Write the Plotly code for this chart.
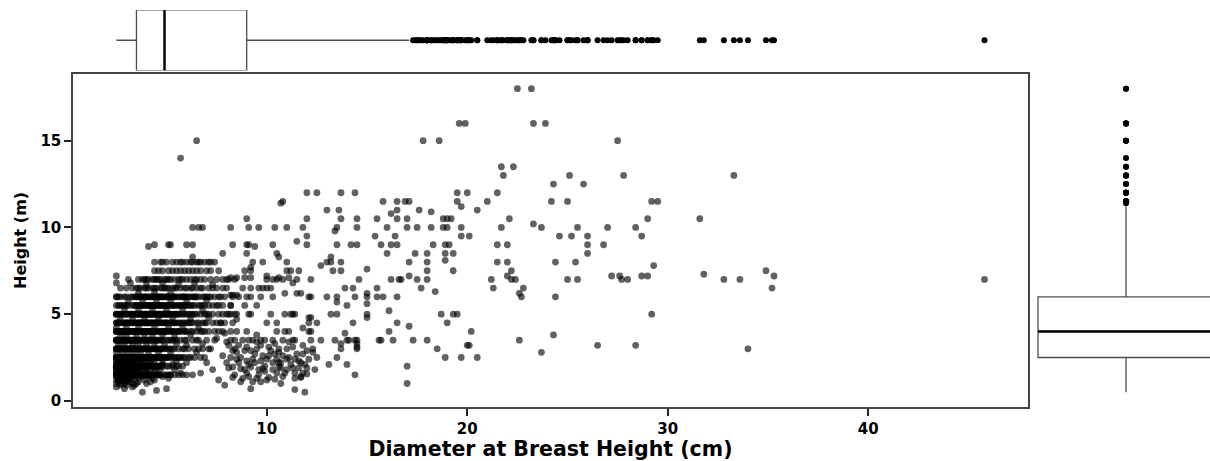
import numpy as np
import plotly.graph_objects as go

# DBH (cm) of stems recorded on each 0.5 m height class of the dense cluster
dbh_at_1_5 = [2.5, 2.5, 2.5, 2.6, 2.6, 2.7, 2.7, 2.8, 2.8, 2.8, 2.9, 2.9, 3.0, 3.0, 3.0, 3.1, 3.1, 3.2, 3.2, 3.3,
              3.3, 3.4, 3.4, 3.5, 3.6, 3.6, 3.7, 3.8, 3.8, 3.9, 4.0, 4.1, 4.1, 4.2, 4.3, 4.4, 4.4, 4.5, 4.6, 4.7,
              4.9, 5.0, 5.2, 5.4, 5.6, 5.8, 6.0, 6.3, 2.5, 2.6, 2.7, 2.8, 2.9, 3.0, 3.1, 3.2, 3.3, 3.4, 2.5, 2.7,
              2.9, 3.1, 3.5, 3.7, 3.9, 4.2, 4.6, 5.1]
dbh_at_2_0 = [2.5, 2.5, 2.5, 2.6, 2.6, 2.6, 2.7, 2.7, 2.7, 2.8, 2.8, 2.8, 2.9, 2.9, 3.0, 3.0, 3.0, 3.1, 3.1, 3.2,
              3.2, 3.3, 3.3, 3.4, 3.4, 3.5, 3.5, 3.6, 3.7, 3.7, 3.8, 3.9, 4.0, 4.0, 4.1, 4.2, 4.3, 4.3, 4.4, 4.5,
              4.6, 4.8, 5.0, 5.1, 5.3, 5.5, 5.8, 2.5, 2.6, 2.7, 2.8, 2.9, 3.0, 3.1, 3.2, 3.3, 3.4, 2.6, 2.8, 3.0,
              3.6, 3.8, 4.0, 4.3, 4.5, 4.7, 5.6]
dbh_at_2_5 = [2.5, 2.5, 2.5, 2.6, 2.6, 2.6, 2.7, 2.7, 2.8, 2.8, 2.8, 2.9, 2.9, 3.0, 3.0, 3.0, 3.1, 3.1, 3.2, 3.2,
              3.2, 3.3, 3.3, 3.4, 3.4, 3.5, 3.5, 3.6, 3.6, 3.7, 3.8, 3.9, 3.9, 4.0, 4.0, 4.1, 4.2, 4.2, 4.3, 4.4,
              4.5, 4.5, 4.6, 4.7, 4.8, 4.9, 5.0, 5.1, 5.3, 5.5, 5.7, 5.9, 6.1, 6.4, 2.5, 2.7, 3.1, 3.4, 3.8, 4.4,
              5.2, 6.7, 2.5, 2.6, 2.7, 2.8, 2.9, 3.0, 3.1, 3.2, 3.3, 3.4, 2.6, 2.8, 3.0, 3.2, 3.4, 3.5, 3.6, 3.7,
              3.9, 4.1, 4.3, 4.5, 4.6, 4.7, 4.8, 5.0, 5.4, 5.8, 6.2, 6.9, 2.5, 2.7, 2.9, 3.1, 3.3, 3.6, 3.9, 4.2,
              4.6, 5.6]
dbh_at_3_0 = [2.5, 2.5, 2.5, 2.6, 2.6, 2.7, 2.7, 2.8, 2.8, 2.9, 2.9, 3.0, 3.0, 3.1, 3.1, 3.2, 3.2, 3.3, 3.4, 3.4,
              3.5, 3.6, 3.7, 3.7, 3.8, 3.9, 4.0, 4.0, 4.1, 4.2, 4.3, 4.4, 4.5, 4.6, 4.7, 4.9, 5.0, 5.2, 5.4, 5.6,
              5.9, 6.1, 6.4, 6.8, 2.5, 2.7, 2.9, 3.1, 3.3, 3.6, 3.9, 4.2, 4.5, 4.8, 5.1, 6.6, 2.6, 2.8, 3.0, 3.2,
              3.4, 3.5, 3.8, 4.1, 4.4, 4.7, 5.3, 5.8, 7.1]
dbh_at_3_5 = [2.5, 2.5, 2.5, 2.6, 2.6, 2.7, 2.8, 2.8, 2.9, 2.9, 3.0, 3.1, 3.2, 3.2, 3.3, 3.4, 3.5, 3.5, 3.6, 3.7,
              3.8, 3.9, 4.0, 4.1, 4.2, 4.3, 4.4, 4.5, 4.6, 4.8, 5.0, 5.1, 5.3, 5.5, 5.7, 6.0, 6.3, 6.6, 7.0, 2.6,
              2.8, 3.0, 3.2, 3.4, 3.5, 3.8, 4.1, 4.4, 4.7, 5.2, 5.9, 7.4, 2.5, 2.7, 2.9, 3.1, 3.3, 3.6, 3.9, 4.2,
              4.5, 4.8, 5.4, 6.5]
dbh_at_4_0 = [2.5, 2.5, 2.6, 2.7, 2.8, 2.8, 2.9, 3.0, 3.1, 3.1, 3.2, 3.3, 3.4, 3.5, 3.6, 3.7, 3.8, 3.9, 3.9, 4.0,
              4.1, 4.2, 4.3, 4.4, 4.6, 4.7, 4.8, 4.9, 5.0, 5.2, 5.3, 5.4, 5.5, 5.7, 5.9, 6.2, 6.5, 6.9, 7.4, 2.6,
              2.9, 3.0, 3.2, 3.4, 2.7, 3.6, 3.8, 4.0, 4.2, 4.5, 4.7, 3.5, 4.1, 5.1, 5.6, 6.0, 6.7, 7.1, 7.8, 2.5,
              2.6, 2.8, 2.9, 3.0, 3.1, 3.3, 3.4, 3.5, 3.6, 3.7, 3.9, 4.0, 4.2, 4.4, 4.5, 4.8, 4.9, 5.0, 5.3, 5.6,
              5.9, 6.3, 6.8, 7.6]
dbh_at_4_5 = [2.5, 2.5, 2.6, 2.7, 2.8, 2.9, 3.0, 3.0, 3.1, 3.2, 3.3, 3.4, 3.5, 3.6, 3.6, 3.7, 3.8, 3.9, 4.0, 4.1,
              4.1, 4.2, 4.3, 4.5, 4.6, 4.6, 4.7, 4.9, 5.0, 5.1, 5.2, 5.3, 5.4, 5.6, 5.8, 6.0, 6.3, 6.6, 7.0, 7.5,
              2.6, 3.1, 3.3, 3.7, 3.9, 4.0, 4.2, 4.4, 4.8, 3.5, 3.8, 4.3, 4.9, 5.2, 5.5, 5.7, 5.9, 6.2, 6.5, 6.9,
              7.3, 7.9, 8.3, 2.6, 2.9, 3.7, 4.0, 4.4, 5.0, 5.4, 6.1, 6.8, 7.7]
dbh_at_5_0 = [2.5, 2.5, 2.6, 2.7, 2.8, 2.9, 3.0, 3.1, 3.2, 3.3, 3.4, 3.5, 3.5, 3.6, 3.7, 3.8, 3.9, 4.0, 4.0, 4.1,
              4.2, 4.3, 4.4, 4.5, 4.5, 4.6, 4.7, 4.8, 4.9, 5.0, 5.0, 5.1, 5.2, 5.4, 5.5, 5.5, 5.7, 5.9, 6.0, 6.1,
              6.4, 6.7, 7.1, 7.6, 8.0, 2.7, 3.0, 3.2, 3.4, 3.6, 3.7, 3.9, 4.1, 4.2, 4.4, 4.6, 4.8, 3.8, 4.3, 4.9,
              5.1, 5.3, 5.6, 5.8, 6.2, 6.5, 6.9, 7.3, 7.8, 8.4, 2.5, 3.3, 3.9, 4.2, 4.6, 4.7, 5.2, 5.5, 6.3, 7.0,
              8.1]
dbh_at_5_5 = [2.5, 2.7, 2.9, 3.1, 3.3, 3.5, 3.7, 3.8, 4.0, 4.1, 4.2, 4.3, 4.4, 4.6, 4.7, 4.8, 4.9, 5.0, 5.2, 5.3,
              5.4, 5.5, 5.7, 5.9, 6.1, 6.3, 6.6, 6.9, 7.3, 7.8, 2.6, 2.8, 3.4, 3.6, 3.9, 4.0, 4.5, 4.7, 3.5, 4.2,
              4.4, 4.8, 5.0, 5.1, 5.6, 5.8, 6.0, 6.4, 6.8, 7.1, 7.5, 8.2, 3.0, 3.8, 4.3, 4.6, 5.3, 5.7, 6.2, 6.7,
              7.6]
dbh_at_6_0 = [2.5, 2.5, 2.7, 2.9, 3.0, 3.2, 3.4, 3.5, 3.7, 3.9, 4.0, 4.2, 4.3, 4.4, 4.5, 4.6, 4.8, 5.0, 5.1, 5.2,
              5.3, 5.5, 5.7, 5.9, 6.0, 6.2, 6.5, 6.8, 7.2, 7.6, 2.6, 3.3, 3.6, 3.8, 4.1, 4.3, 4.6, 4.7, 3.5, 4.0,
              4.4, 4.8, 3.7, 4.2, 4.9, 5.1, 5.4, 5.6, 5.8, 6.1, 6.3, 6.6, 6.9, 7.4, 7.9, 8.3, 5.3, 5.9, 6.4, 7.0,
              3.9, 4.5, 4.7, 5.0, 5.4, 5.8, 6.4, 7.1, 7.7, 8.6]
dbh_at_6_5 = [2.7, 3.0, 3.3, 3.5, 3.7, 3.9, 4.1, 4.3, 4.5, 4.7, 4.9, 5.1, 5.3, 5.5, 5.7, 6.0, 6.2, 6.5, 6.8, 7.1,
              7.5, 8.0, 3.6, 4.0, 4.4, 4.8, 5.0, 5.4, 5.9, 6.3, 6.7, 7.3, 7.8]
dbh_at_7_0 = [3.1, 3.6, 3.9, 4.0, 4.1, 4.4, 4.5, 4.6, 4.9, 5.0, 5.1, 5.4, 5.6, 5.7, 6.0, 6.2, 6.4, 6.7, 7.2, 7.8,
              8.1, 8.4, 3.8, 4.3, 4.7, 5.2, 5.8, 6.5, 6.9, 7.5, 8.0]
dbh_at_7_5 = [4.4, 4.8, 5.1, 5.5, 5.9, 6.3, 6.7, 7.2, 7.6, 4.6, 5.3, 5.7, 6.1, 6.5, 7.0]
dbh_at_8_0 = [4.4, 4.8, 5.3, 5.5, 5.7, 5.8, 6.0, 6.3, 6.5, 6.7, 7.1, 7.2, 4.7, 5.0, 6.2, 6.9, 6.6, 7.4]

height_classes = [1.5, 2.0, 2.5, 3.0, 3.5, 4.0, 4.5, 5.0, 5.5, 6.0, 6.5, 7.0, 7.5, 8.0]
class_dbh = [dbh_at_1_5, dbh_at_2_0, dbh_at_2_5, dbh_at_3_0, dbh_at_3_5, dbh_at_4_0, dbh_at_4_5,
             dbh_at_5_0, dbh_at_5_5, dbh_at_6_0, dbh_at_6_5, dbh_at_7_0, dbh_at_7_5, dbh_at_8_0]

# small stems whose height falls between the classes: "dbh,height"
small_between = """
2.5,0.8 2.9,0.7 3.3,0.8 3.8,0.5 4.5,0.6 5.0,0.7 2.7,1.0 3.0,0.9 3.5,1.0 2.6,1.1 3.2,1.1 4.0,1.0 2.5,1.0
3.4,0.9 2.8,1.2 3.9,1.2 4.2,1.1 2.5,1.2 3.1,1.2 3.6,1.1 2.9,1.0 4.4,1.2 2.7,0.9 3.0,1.1 2.6,1.2 3.3,1.0
2.5,1.4 2.6,1.3 2.7,1.6 2.9,1.7 3.0,1.4 3.2,1.8 3.4,1.3 3.5,1.7 3.7,1.6 2.5,1.7 2.8,1.8 3.1,1.6 3.3,1.4
3.9,1.8 4.1,1.4 4.4,1.7 2.6,1.8 3.6,1.3 2.5,1.6 3.0,1.8 2.7,1.3 2.9,1.4 3.2,1.3 4.0,1.6 4.7,1.8 5.1,1.3
2.6,1.7 2.8,1.6 3.4,1.7 3.8,1.4 2.5,2.2 2.5,2.3 2.7,2.2 2.8,1.9 3.0,2.3 3.1,2.2 3.3,2.3 2.6,2.2 2.9,2.3
3.2,1.9 3.5,2.2 3.8,2.3 4.2,2.2 2.5,1.9 2.6,1.9 3.0,2.1 3.4,2.2 4.0,2.3 2.5,2.1 2.8,2.4 2.7,2.1 2.9,1.9
3.1,2.4 3.3,2.1 3.6,1.9 3.9,2.1 4.4,2.3 4.8,2.2 5.3,2.1 2.6,2.4 2.5,1.8 2.7,1.4 3.0,1.6 3.3,1.7 2.6,2.1
2.9,2.2 3.2,2.1 3.4,1.9 3.5,1.5 3.8,1.9 4.1,2.1 4.3,1.3 3.6,2.3 4.0,1.8 3.7,2.4 4.6,2.0 4.8,1.4 5.4,1.8
6.0,2.2 5.7,1.6 2.5,1.5 2.6,1.6 2.7,1.7 2.8,1.3 2.9,1.5 3.0,1.2 3.1,1.8 3.2,1.6 3.3,1.9 3.4,1.5 2.5,2.0
2.6,2.3 2.7,2.4 2.8,2.2 2.9,2.0 3.0,2.4 3.1,2.0 3.3,2.2 3.5,1.9 3.6,1.6 3.7,2.1 3.9,1.5 4.0,2.0 4.2,1.7
4.3,2.4 4.5,1.9 4.6,1.5 4.8,2.1 5.2,1.5 5.5,2.3
2.5,2.8 2.8,2.7 3.1,2.8 3.4,2.7 3.7,2.8 4.1,2.7 4.6,2.8 5.2,2.7 2.6,3.2 2.9,3.3 3.3,3.2 3.6,3.3 4.0,3.2
4.4,3.3 4.9,3.2 5.5,3.3 6.0,3.2 2.7,3.7 3.0,3.8 3.5,3.7 3.9,3.8 4.3,3.7 4.8,3.8 5.4,3.7 6.2,3.8 6.8,3.3
6.5,2.8 7.2,3.0 7.5,3.6 7.0,2.2 7.3,1.8 6.7,1.6 7.8,2.6 8.1,1.9 7.6,1.2 8.3,2.9 8.0,3.4 8.6,2.2 8.4,1.5
7.9,0.9
2.5,4.2 3.0,4.3 3.6,4.2 4.4,4.3 5.1,4.2 5.8,4.3 6.6,4.2 2.7,4.8 3.3,4.7 3.9,4.8 4.6,4.7 5.3,4.8 6.2,4.7
7.1,4.8 2.9,5.3 3.6,5.2 4.3,5.3 5.0,5.2 5.8,5.3 6.8,5.2 3.1,5.7 3.8,5.8 4.5,5.7 5.2,5.8 6.0,5.7 7.0,5.8
7.7,4.5 8.2,5.5 8.5,4.7 7.9,3.9
2.5,6.8 2.5,7.2 3.2,6.8 4.0,6.7 4.8,6.8 5.6,6.7 6.4,6.8 7.3,6.7 3.6,6.2 4.4,6.3 5.2,6.2
5.7,14.0 6.5,15.0
"""

# larger stems, mostly beyond 8 cm DBH: "dbh,height"
large_stems = """
22.5,18 23.2,18 19.6,16 19.9,16 23.3,16 23.9,16 17.8,15 18.6,15 27.5,15 21.7,13.5 22.3,13.5 21.8,13
25.1,13 27.8,13 33.3,13 24.3,12.5 25.8,12.5 12.0,12 12.5,12 13.7,12 14.4,12 19.5,12 20.0,12 21.5,12
10.7,11.4 10.8,11.5 15.8,11.5 16.5,11.5 16.9,11.5 17.1,11.5 19.5,11.5 21.0,11.5 24.2,11.5 25.0,11.5
29.2,11.5 29.5,11.5 19.7,11.2 13.0,11 13.6,11 16.5,11 17.6,11 20.5,11 18.2,10.9 16.2,10.8
9.0,10.5 12.0,10.5 13.7,10.5 14.5,10.5 15.5,10.5 16.5,10.5 17.0,10.5 18.8,10.5 19.0,10.5 19.2,10.5
22.1,10.5 29.0,10.5 31.6,10.5
6.3,10 6.6,10 6.8,10 8.2,10 9.1,10 9.6,10 10.4,10 11.0,10 11.8,10 13.4,9.8 13.5,10 14.5,10 16.0,10
17.0,10 17.5,10 18.2,10 18.8,10 19.0,10 19.7,10 21.7,10 23.3,10.2 23.7,10 25.5,10 27.0,10 28.4,10
11.5,9.2 12.0,9.5 15.4,9.5 16.4,9.5 19.7,9.5 20.1,9.5 24.6,9.5 25.2,9.5 26.0,9.5 28.7,9.5
4.1,8.9 4.4,9 5.1,9 5.2,9 6.0,9 6.3,9 8.3,9 9.0,9 9.1,9 9.4,8.9 10.3,9 12.0,9 13.5,9 14.2,9 14.5,9
15.7,9 16.2,9 16.5,9 18.3,9 18.9,9 19.1,9 21.5,9 22.0,9 26.0,9 26.8,9
7.8,8.5 9.0,8.5 10.5,8.5 10.6,8.3 13.2,8.3 16.0,8.5 17.4,8.5 18.0,8.5 18.9,8.5 19.3,8.5 26.0,8.5 6.3,8.3
9.3,8 9.8,8 11.0,8 12.7,7.8 13.0,8 13.2,8 13.7,8 17.1,8 18.0,8 18.9,8.1 21.5,8 22.0,8 24.4,8 25.4,8
29.3,7.8
8.9,7.5 9.2,7.5 9.2,7.7 11.0,7.5 11.2,7.5 11.6,7.5 13.3,7.5 13.7,7.5 15.0,7.6 18.0,7.5 19.3,7.5
22.2,7.5 34.9,7.5 8.2,7.1 8.5,7.1 8.9,7.1 9.2,7.1 10.0,7.2 10.0,7.0 10.3,7.0 10.5,7.0 10.6,7.1 10.8,7.0
11.1,7.1 11.5,7.0 12.2,7.0 14.6,7.0 16.2,7.0 16.6,7.0 16.7,7.0 17.1,7.2 17.5,7.0 18.0,7.0 21.2,7.0
22.0,7.2 22.2,7.0 22.4,7.0 25.0,7.0 25.5,7.0 27.2,7.2 27.6,7.2 27.7,7.0 28.0,7.0 28.7,7.2 29.0,7.2
31.8,7.3 32.8,7.0 33.6,7.0 35.3,7.2 45.8,7.0
8.8,6.5 9.2,6.5 9.6,6.5 9.8,6.5 10.0,6.5 10.2,6.5 11.3,6.8 13.9,6.5 14.3,6.5 15.5,6.5 17.7,6.5 18.4,6.3
21.3,6.5 22.8,6.5 22.6,6.2 22.7,6.0 35.2,6.5
8.2,6.1 8.3,6.1 8.5,6.1 9.0,6.0 9.2,6.0 9.7,6.0 10.3,6.0 10.9,6.2 11.5,6.2 11.7,6.2 12.1,6.0 12.2,6.0
13.0,6.0 13.5,6.0 13.5,5.7 14.4,6.0 15.0,6.2 15.0,6.0 15.5,6.0 15.8,6.0 16.5,6.0 24.4,6.0
8.9,5.5 9.5,5.5 14.0,5.5 15.0,5.6 16.1,5.2 8.2,5.0 8.5,5.0 9.1,5.0 9.2,5.0 10.2,5.0 10.9,5.0 11.2,5.0
11.3,5.0 11.4,5.0 12.2,4.8 13.2,5.0 13.5,5.0 15.0,5.0 15.0,4.8 18.7,5.0 19.3,5.0 19.5,5.0 29.2,5.0
10.0,4.5 10.5,4.5 12.1,4.5 12.5,4.5 12.1,4.8 14.3,4.5 16.5,4.5 19.0,4.5 11.8,4.2 17.1,4.3 8.2,4.0
8.5,4.0 9.0,4.0 10.5,4.0 10.9,4.0 11.1,4.0 12.1,4.0 12.2,4.0 16.1,4.0 20.2,4.0 13.9,3.9 9.5,3.8 24.3,3.8
8.2,3.5 8.4,3.5 8.8,3.5 9.1,3.5 9.3,3.5 9.7,3.5 9.9,3.5 10.3,3.5 10.8,3.5 11.3,3.5 11.4,3.5 12.2,3.5
12.7,3.5 13.4,3.5 14.0,3.5 14.1,3.5 14.4,3.5 14.5,3.5 15.6,3.5 15.7,3.5 16.3,3.5 17.3,3.5 18.0,3.5
22.6,3.5 13.7,3.3 14.5,3.3 11.8,3.2
8.4,3.0 9.0,3.1 9.5,3.0 10.1,3.1 10.6,2.8 11.3,3.1 11.8,2.7 12.3,2.8 12.3,3.0 13.7,3.0 14.5,3.0 14.5,3.1
18.5,3.0 20.0,3.2 20.1,3.2 26.5,3.2 28.4,3.2 34.0,3.0 23.7,2.8
8.2,2.5 8.5,2.4 8.7,2.5 9.0,2.3 9.3,2.4 9.7,2.3 10.0,2.4 10.5,2.4 10.6,2.2 11.1,2.5 11.4,2.4 11.6,2.3
12.5,2.5 13.5,2.5 18.9,2.5 19.7,2.5 20.5,2.5
8.3,1.95 8.7,1.85 8.9,1.8 9.2,1.95 9.6,1.8 9.8,1.85 10.3,1.8 10.6,1.95 10.7,2.2 10.7,1.9 11.0,1.8
11.6,1.9 11.7,2.2 11.9,2.1 12.0,1.9 13.1,2.1 14.0,2.1 17.0,2.0
8.3,1.35 8.8,1.3 9.5,1.3 10.1,1.35 10.4,1.25 11.4,1.3 11.4,1.6 11.7,1.4 11.7,1.35 12.0,1.55 14.4,1.5
17.0,1.0 9.2,0.7 11.4,0.65 11.9,0.5
8.0,2.2 8.6,3.2 9.4,2.7 9.9,2.0 10.2,2.9 10.8,2.6 11.2,2.1 9.0,1.6 9.6,1.5 10.9,1.6 8.5,2.8 9.8,2.6
10.4,3.3 11.0,3.0 8.1,3.2 9.3,1.1 10.0,1.2 10.7,1.0 8.7,1.1 11.5,2.7 12.1,2.4 12.4,1.8 9.1,2.1 10.5,1.6
8.9,2.9 9.2,2.9 9.7,3.2 10.1,2.6 10.6,3.0 11.1,3.4 9.4,2.2 9.9,1.7 10.3,2.2 10.8,1.4 11.3,1.9 11.8,1.6
9.1,1.4 9.7,1.1 10.4,2.7 11.0,2.4 9.5,3.4 12.0,2.9
"""


def read_pairs(text):
    xs, ys = [], []
    for item in text.split():
        d, h = item.split(",")
        xs.append(float(d))
        ys.append(float(h))
    return xs, ys


dbh, height = [], []
for h, row in zip(height_classes, class_dbh):
    dbh.extend(row)
    height.extend([h] * len(row))
for block in (small_between, large_stems):
    bx, by = read_pairs(block)
    dbh.extend(bx)
    height.extend(by)

W, H = 1210, 461
FONT = "DejaVu Sans"
BOX_LINE = "#4d4d4d"

fig = go.Figure()

fig.add_trace(go.Scatter(
    x=dbh, y=height, mode="markers", xaxis="x", yaxis="y",
    marker=dict(color="black", opacity=0.62, size=6.8, line=dict(width=0)),
    hoverinfo="skip", showlegend=False,
))

box_style = dict(
    boxpoints="outliers", jitter=0, pointpos=0, width=1, whiskerwidth=0,
    quartilemethod="linear", fillcolor="white",
    line=dict(color=BOX_LINE, width=1.3),
    marker=dict(color="black", size=6, opacity=1, line=dict(width=0)),
    showlegend=False, hoverinfo="skip",
)

# marginal box of DBH above the scatter
fig.add_trace(go.Box(x=dbh, y0=0, orientation="h", xaxis="x", yaxis="y2", **box_style))
# marginal box of height to the right
fig.add_trace(go.Box(y=height, x0=0, orientation="v", xaxis="x3", yaxis="y", **box_style))

# darker median strokes across each box (box spans -0.5..0.5 on its position axis)
dbh_median = float(np.median(dbh))
height_median = float(np.median(height))
fig.add_trace(go.Scatter(
    x=[dbh_median, dbh_median], y=[-0.5, 0.5], mode="lines", xaxis="x", yaxis="y2",
    line=dict(color="black", width=2.4), hoverinfo="skip", showlegend=False,
))
fig.add_trace(go.Scatter(
    x=[-0.5, 0.5], y=[height_median, height_median], mode="lines", xaxis="x3", yaxis="y",
    line=dict(color="black", width=2.4), hoverinfo="skip", showlegend=False,
))

tick_font = dict(family=FONT, size=15, color="black", weight="bold")

fig.update_layout(
    width=W, height=H,
    margin=dict(l=0, r=0, t=0, b=0),
    paper_bgcolor="white", plot_bgcolor="white",
    showlegend=False,
    xaxis=dict(
        domain=[73 / W, 1028 / W], range=[0.335, 47.97], anchor="y",
        tickvals=[10, 20, 30, 40], ticks="outside", ticklen=7, tickwidth=2, tickcolor="#222",
        showline=True, linecolor="#444", linewidth=1.5, mirror=True,
        showgrid=False, zeroline=False, tickfont=tick_font,
        title=dict(text="Diameter at Breast Height (cm)",
                   font=dict(family=FONT, size=20.5, color="black", weight="bold"), standoff=5),
    ),
    yaxis=dict(
        domain=[(H - 410) / H, (H - 74) / H], range=[-0.375, 18.875], anchor="x",
        tickvals=[0, 5, 10, 15], ticks="outside", ticklen=7, tickwidth=2, tickcolor="#222",
        showline=True, linecolor="#444", linewidth=1.5, mirror=True,
        showgrid=False, zeroline=False, tickfont=tick_font,
        title=dict(text="Height (m)",
                   font=dict(family=FONT, size=16, color="black", weight="bold"), standoff=10),
    ),
    yaxis2=dict(
        domain=[(H - 71) / H, (H - 10) / H], range=[-0.5, 0.5], anchor="x",
        visible=False, showgrid=False, zeroline=False,
    ),
    xaxis3=dict(
        domain=[1030 / W, 1.0], range=[-0.5455, 0.477], anchor="y",
        visible=False, showgrid=False, zeroline=False,
    ),
)

fig.write_html("out.html")
